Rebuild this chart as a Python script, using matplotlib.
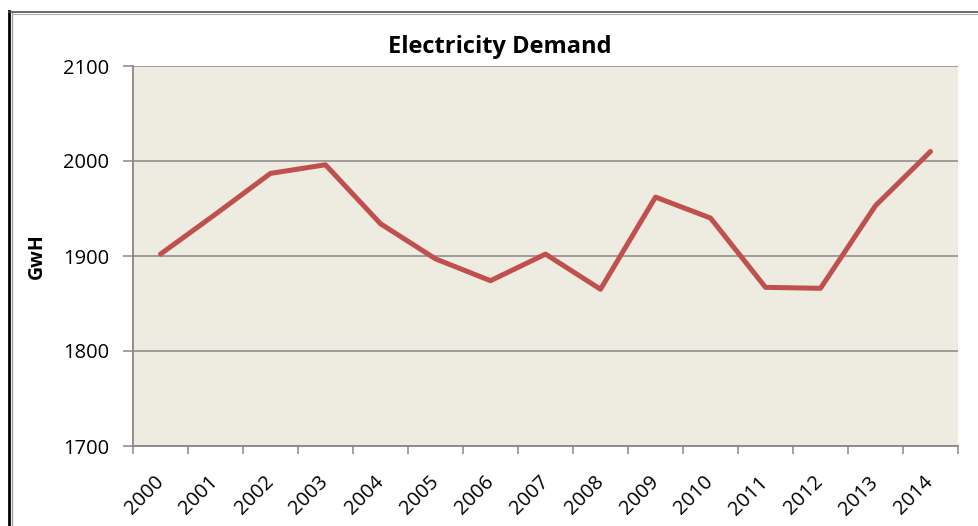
import matplotlib
matplotlib.use("Agg")
import matplotlib.pyplot as plt
from matplotlib.lines import Line2D
from matplotlib.transforms import ScaledTranslation

years = ["2000", "2001", "2002", "2003", "2004", "2005", "2006", "2007",
         "2008", "2009", "2010", "2011", "2012", "2013", "2014"]
demand = [1902, 1944, 1987, 1996, 1934, 1897, 1874, 1902,
          1865, 1962, 1940, 1867, 1866, 1953, 2010]
yticks = [1700, 1800, 1900, 2000, 2100]

plt.rcParams['font.family'] = ['Open Sans', 'DejaVu Sans']

W, H = 979, 526
fig = plt.figure(figsize=(W / 100, H / 100), dpi=100)
ax = fig.add_axes([133 / W, 1 - 446 / H, (958 - 133) / W, (446 - 66) / H])
ax.set_facecolor('#EEECE1')

x = list(range(len(years)))
ax.plot(x, demand, color='#C0504D', linewidth=3.6, solid_joinstyle='round',
        solid_capstyle='round', zorder=3)

ax.set_xlim(-0.5, len(years) - 0.5)
ax.set_ylim(1700, 2100)
ax.set_yticks(yticks)
ax.set_yticklabels([str(v) for v in yticks], fontsize=14.5)
ax.yaxis.grid(True, color='#878787', linewidth=1.1)
ax.set_axisbelow(True)

# category boundary ticks (major) and centered labels (minor)
ax.set_xticks([i - 0.5 for i in range(len(years) + 1)])
ax.set_xticklabels([])
ax.set_xticks(x, minor=True)
ax.set_xticklabels(years, minor=True, rotation=45, ha='right', va='center',
                   rotation_mode='anchor', fontsize=14.5)
shift = ScaledTranslation(4 / 100, 0, fig.dpi_scale_trans)
for lbl in ax.xaxis.get_minorticklabels():
    lbl.set_transform(lbl.get_transform() + shift)
ax.tick_params(axis='x', which='major', length=6, width=1.1, color='#878787',
               direction='out')
ax.tick_params(axis='x', which='minor', length=0, pad=24)
ax.tick_params(axis='y', length=7, width=1.1, color='#878787', direction='out', pad=10)

for s in ['top', 'right']:
    ax.spines[s].set_visible(False)
for s in ['left', 'bottom']:
    ax.spines[s].set_color('#878787')
    ax.spines[s].set_linewidth(1.3)

ax.set_ylabel('GwH', fontsize=14, fontweight='bold')
ax.yaxis.set_label_coords(-(133 - 47) / (958 - 133), 0.5)
fig.text(500 / W, 1 - 47 / H, 'Electricity Demand', fontsize=17, fontweight='bold',
         ha='center', va='center')

# outer chart frame (partially cropped)
fig.add_artist(Line2D([9 / W, 9 / W], [0, 1 - 11 / H], transform=fig.transFigure,
                      color='black', linewidth=2.0))
fig.add_artist(Line2D([12 / W, 12 / W], [0, 1 - 13 / H], transform=fig.transFigure,
                      color='#A0A0A0', linewidth=1.0))
fig.add_artist(Line2D([9 / W, 1], [1 - 12 / H, 1 - 12 / H], transform=fig.transFigure,
                      color='#505050', linewidth=1.2))
fig.add_artist(Line2D([12 / W, 1], [1 - 13.5 / H, 1 - 13.5 / H], transform=fig.transFigure,
                      color='#B0B0B0', linewidth=0.8))

fig.savefig('out.png', dpi=100)
